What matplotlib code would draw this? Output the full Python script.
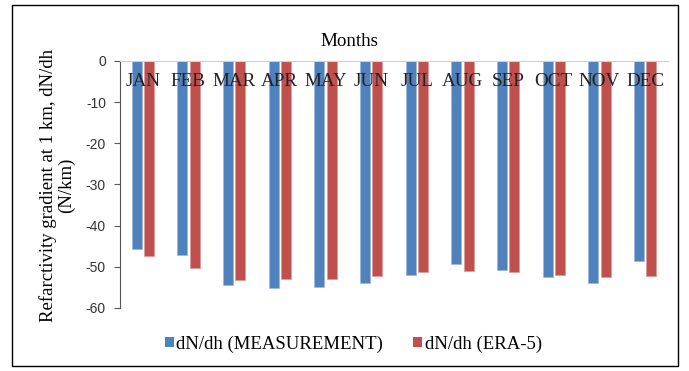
import matplotlib
matplotlib.use("Agg")
import matplotlib.pyplot as plt
import numpy as np
from matplotlib.patches import Rectangle, Patch

months = ["JAN", "FEB", "MAR", "APR", "MAY", "JUN", "JUL", "AUG", "SEP", "OCT", "NOV", "DEC"]
measurement = [-45.8, -47.1, -54.5, -55.2, -54.8, -53.9, -52.0, -49.4, -50.7, -52.6, -53.9, -48.7]
era5 = [-47.4, -50.3, -53.2, -52.9, -52.9, -52.3, -51.3, -51.0, -51.3, -52.0, -52.6, -52.3]
yticks = [0, -10, -20, -30, -40, -50, -60]

blue = "#4F81BD"
red = "#C0504D"

plt.rcParams['font.family'] = ['Liberation Serif', 'DejaVu Serif']

fig = plt.figure(figsize=(6.89, 3.71), dpi=100)
ax = fig.add_axes([0.174, 0.170, 0.7955, 0.6656])

x = np.arange(len(months))
w = 0.22
ax.bar(x - 0.135, measurement, width=w, color=blue, edgecolor="#9BB7DA", linewidth=0.5, label="dN/dh (MEASUREMENT)")
ax.bar(x + 0.135, era5, width=w, color=red, edgecolor="#DA9B99", linewidth=0.5, label="dN/dh (ERA-5)")

ax.set_xlim(-0.5, len(months) - 0.5)
ax.set_ylim(-60, 0)
ax.set_yticks(yticks)
ax.set_yticklabels([str(v) for v in yticks], fontsize=10,
                   family=['Liberation Sans', 'DejaVu Sans'], color="#333333")
ax.set_xticks([])
for xi, m in zip(x, months):
    ax.text(xi, -5.0, m, ha="center", va="center", fontsize=13.8, color="#222222")

for s in ["right", "bottom"]:
    ax.spines[s].set_visible(False)
ax.spines["top"].set_color("#D0D0D0")
ax.spines["left"].set_color("#555555")
ax.tick_params(axis="y", direction="out", length=4, color="#555555", pad=6)

fig.text(0.507, 0.887, "Months", ha="center", va="center", fontsize=13.7)
fig.text(0.083, 0.50, "Refarctivity gradient at 1 km, dN/dh\n(N/km)", rotation=90,
         ha="center", va="center", fontsize=13.5, linespacing=1.1)

handles = [Patch(facecolor=blue), Patch(facecolor=red)]
fig.legend(handles, ["dN/dh (MEASUREMENT)", "dN/dh (ERA-5)"], loc="center",
           bbox_to_anchor=(0.513, 0.073), ncol=2, frameon=False, fontsize=13.5,
           handlelength=0.45, handleheight=0.45, handletextpad=0.15, columnspacing=1.6,
           borderpad=0, borderaxespad=0)

fig.patches.append(Rectangle((12 / 689, 5 / 371), 666 / 689, 361 / 371, transform=fig.transFigure,
                             fill=False, edgecolor="black", linewidth=1.0))

fig.savefig("out.png", dpi=100)
